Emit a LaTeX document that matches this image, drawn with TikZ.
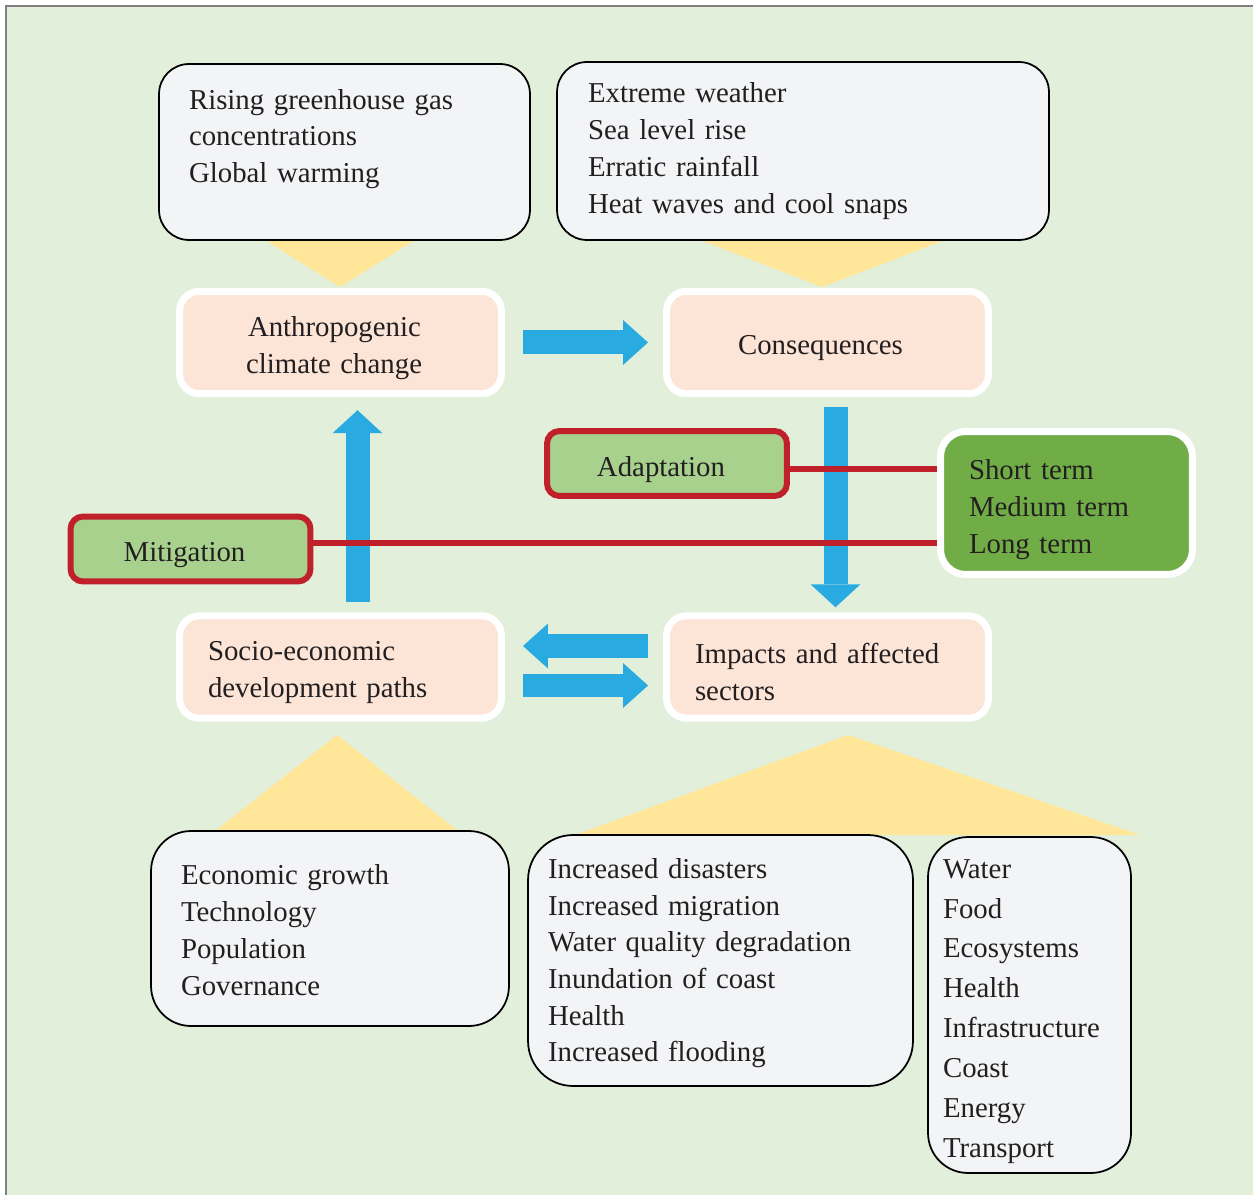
\documentclass[tikz,border=0pt]{standalone}
\usepackage{fontspec}
\setmainfont{Liberation Serif}
\usetikzlibrary{arrows.meta,
	calc,
	positioning}
\definecolor{paper}{RGB}{226,239,218}
\definecolor{framegray}{RGB}{128,128,128}
\definecolor{boxgray}{RGB}{243,244,246}
\definecolor{salmon}{RGB}{252,228,214}
\definecolor{wedgeyellow}{RGB}{255,230,153}
\definecolor{arrowblue}{RGB}{41,171,226}
\definecolor{policyred}{RGB}{192,32,42}
\definecolor{lightleaf}{RGB}{169,209,142}
\definecolor{leafgreen}{RGB}{112,173,71}
\definecolor{textdark}{RGB}{35,31,32}

\begin{document}
\begin{tikzpicture}[x=0.02cm, y=-0.02cm,
	every node/.style={font=\fontsize{16.4}{21}\selectfont, text=textdark},
	textdrop/.style={execute at begin node={\rule{0pt}{#1}}},
	textnudge/.style={execute at end node={\hspace*{#1}}},
	infobox/.style={draw=black, line width=1pt, fill=boxgray, align=left},
	stagebox/.style={draw=white, line width=0.14cm, fill=salmon, rounded corners=0.4cm, minimum width=6.44cm, minimum height=2.05cm, textdrop=17.6pt},
	policybox/.style={draw=policyred, line width=0.12cm, fill=lightleaf, rounded corners=0.25cm, minimum width=4.8cm, minimum height=1.3cm, textdrop=18pt, textnudge=0.24cm},
	bluearrow/.style={draw=arrowblue, line width=0.48cm, -{Triangle[length=0.5cm, width=0.9cm, line width=0pt]}},
	redline/.style={draw=policyred, line width=0.13cm},
	wedge/.style={fill=wedgeyellow}]
	\useasboundingbox (0,0) rectangle (1253,1195);
	\fill[paper] (6,6) rectangle (1253,1195);
	\draw[framegray, line width=0.04cm] (6,1195) -- (6,6) -- (1253,6);

	\fill[wedge] (265,240) -- (415,240) -- (340,287) -- cycle;
	\fill[wedge] (700,240) -- (945,240) -- (822,287) -- cycle;
	\fill[wedge] (215,831) -- (458,831) -- (337,735) -- cycle;
	\fill[wedge] (575,835) -- (1140,835) -- (848,735) -- cycle;

	\node[infobox, rounded corners=0.6cm, minimum width=7.42cm, minimum height=3.52cm, text width=6.22cm, inner xsep=0.6cm] (causes) at (344.5,152) {Rising greenhouse gas\\concentrations\\Global warming\rule[-0.64cm]{0pt}{0pt}};
	\node[infobox, rounded corners=0.6cm, minimum width=9.84cm, minimum height=3.56cm, text width=8.6cm, inner xsep=0.62cm] (effects) at (803,151) {Extreme weather\\Sea level rise\\Erratic rainfall\\Heat waves and cool snaps};

	\node[stagebox, align=left, text width=3.78cm, inner xsep=1.33cm] (anthro) at (340.5,342.5) {\hspace*{0.04cm}Anthropogenic\\climate change};
	\node[stagebox, textnudge=0.28cm] (conseq) at (827.5,342.5) {Consequences};
	\node[stagebox, align=left, text width=5.3cm, inner xsep=0.57cm] (socio) at (340.5,667) {Socio-economic\\development paths};
	\node[stagebox, align=left, text width=5.3cm, inner xsep=0.57cm, textdrop=16pt] (impacts) at (827.5,667) {Impacts and affected\\sectors};

	\node[policybox] (adapt) at (667,463.5) {Adaptation};
	\node[policybox] (mitig) at (190.5,549) {Mitigation};
	\node[draw=white, line width=0.14cm, fill=leafgreen, rounded corners=0.5cm, minimum width=5.04cm, minimum height=2.86cm, align=left, text width=3.9cm, inner xsep=0.57cm, textdrop=19.2pt] (terms) at (1066.5,503) {Short term\\Medium term\\Long term};

	\node[infobox, rounded corners=0.8cm, minimum width=7.16cm, minimum height=3.9cm, text width=5.96cm, inner xsep=0.6cm, textdrop=13.6pt] (growth) at (330,928.5) {Economic growth\\Technology\\Population\\Governance};
	\node[infobox, rounded corners=0.9cm, minimum width=7.7cm, minimum height=5.02cm, text width=6.9cm, inner xsep=0.4cm, font=\fontsize{16.4}{20.8}\selectfont, textdrop=14.6pt] (risks) at (720.5,960.5) {Increased disasters\\Increased migration\\Water quality degradation\\Inundation of coast\\Health\\Increased flooding};
	\node[infobox, rounded corners=0.8cm, minimum width=4.06cm, minimum height=6.72cm, text width=3.46cm, inner xsep=0.3cm, font=\fontsize{16.4}{22.7}\selectfont, textdrop=18pt] (sectors) at (1029.5,1005) {Water\\Food\\Ecosystems\\Health\\Infrastructure\\Coast\\Energy\\Transport};

	\draw[bluearrow, shorten <=0.36cm, shorten >=0.3cm] (anthro.east) -- (conseq.west);
	\draw[bluearrow, -{Triangle[length=0.46cm, width=1cm, line width=0pt]}, shorten <=0.2cm, shorten >=0.26cm] ([xshift=0.34cm]socio.north) -- ([xshift=0.34cm]anthro.south);
	\draw[bluearrow, -{Triangle[length=0.46cm, width=1cm, line width=0pt]}, shorten <=0.2cm, shorten >=0.1cm] ([xshift=0.16cm]conseq.south) -- ([xshift=0.16cm]impacts.north);
	\draw[bluearrow, shorten <=0.3cm, shorten >=0.36cm] ([yshift=0.42cm]impacts.west) -- ([yshift=0.42cm]socio.east);
	\draw[bluearrow, shorten <=0.36cm, shorten >=0.3cm] ([yshift=-0.37cm]socio.east) -- ([yshift=-0.37cm]impacts.west);

	\draw[redline] ([yshift=-0.11cm]adapt.east) -- ([yshift=-0.11cm]adapt.east -| terms.west);
	\draw[redline] ([yshift=0.12cm]mitig.east) -- ([yshift=0.12cm]mitig.east -| terms.west);
\end{tikzpicture}
\end{document}
